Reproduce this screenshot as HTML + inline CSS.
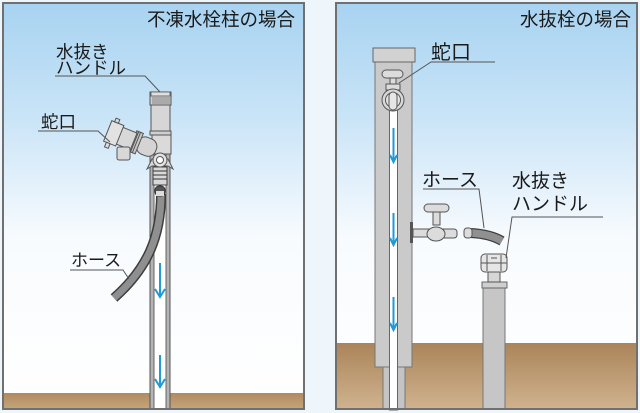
<!DOCTYPE html>
<html><head><meta charset="utf-8">
<style>
html,body{margin:0;padding:0;background:#eef5fb;}
svg{display:block;}
text{font-family:"Liberation Sans","Noto Sans CJK JP",sans-serif;fill:#1a1a1a;}
</style></head><body>
<svg width="640" height="413" viewBox="0 0 640 413" xmlns="http://www.w3.org/2000/svg">
<defs>
<linearGradient id="sky" gradientUnits="userSpaceOnUse" x1="0" y1="3" x2="0" y2="409">
 <stop offset="0" stop-color="#a8d3f1"/>
 <stop offset="0.28" stop-color="#c9e4f7"/>
 <stop offset="0.58" stop-color="#f8fbfe"/>
 <stop offset="1" stop-color="#ffffff"/>
</linearGradient>
<linearGradient id="soil" x1="0" y1="0" x2="0" y2="1">
 <stop offset="0" stop-color="#ab845a"/>
 <stop offset="1" stop-color="#cfb38e"/>
</linearGradient>
<linearGradient id="soil2" x1="0" y1="0" x2="0" y2="1">
 <stop offset="0" stop-color="#b08a5f"/>
 <stop offset="1" stop-color="#c6a57c"/>
</linearGradient>
</defs>

<rect x="0" y="0" width="640" height="413" fill="#eef5fb"/>

<!-- LEFT PANEL -->
<rect x="3" y="3" width="301" height="406" fill="url(#sky)"/>
<rect x="3" y="393" width="301" height="16" fill="url(#soil2)"/>

<!-- left pipe -->
<rect x="150" y="150" width="20" height="259" fill="#b4b4b4" stroke="#555" stroke-width="1"/>
<rect x="154" y="150" width="12" height="259" fill="#ffffff" stroke="#666" stroke-width="1"/>

<!-- hose -->
<path d="M161,194 C161,236 148,268 114,298" fill="none" stroke="#3d3d3d" stroke-width="10"/>
<path d="M161,194 C161,236 148,268 114,298" fill="none" stroke="#8f8f8f" stroke-width="7"/>

<!-- coupler inside pipe -->
<rect x="153" y="167" width="14" height="18" fill="#d8d8d8" stroke="#444" stroke-width="1"/>
<line x1="153" y1="171" x2="167" y2="171" stroke="#333"/>
<line x1="153" y1="175" x2="167" y2="175" stroke="#333"/>
<line x1="153" y1="179" x2="167" y2="179" stroke="#333"/>
<rect x="155" y="186" width="10" height="10" rx="4" fill="#555" stroke="#333"/>
<rect x="156" y="191" width="8" height="5" fill="#ddd"/>

<!-- handle top -->
<rect x="150" y="92" width="21" height="13" fill="#cfcfcf" stroke="#555" stroke-width="1"/>
<rect x="151" y="92" width="19" height="4" fill="#e0e0e0" stroke="#555" stroke-width="0.8"/>
<g stroke="#666" stroke-width="0.7">
<line x1="153" y1="97" x2="153" y2="104"/><line x1="155" y1="97" x2="155" y2="104"/><line x1="157" y1="97" x2="157" y2="104"/><line x1="159" y1="97" x2="159" y2="104"/><line x1="161" y1="97" x2="161" y2="104"/><line x1="163" y1="97" x2="163" y2="104"/><line x1="165" y1="97" x2="165" y2="104"/><line x1="167" y1="97" x2="167" y2="104"/><line x1="169" y1="97" x2="169" y2="104"/>
</g>
<rect x="151" y="105" width="19" height="26" fill="#d6d6d6" stroke="#555" stroke-width="1"/>
<rect x="150" y="131" width="21" height="4" fill="#cfcfcf" stroke="#555" stroke-width="1"/>
<rect x="152" y="135" width="19" height="19" fill="#dadada" stroke="#555" stroke-width="1"/>

<!-- spout -->
<g transform="rotate(22 155 150)" stroke="#555" stroke-width="1">
 <rect x="136" y="141" width="20" height="18" rx="8" fill="#d4d4d4"/>
 <rect x="131" y="139" width="7" height="22" fill="#c8c8c8"/>
 <line x1="133" y1="139" x2="133" y2="161"/><line x1="135" y1="139" x2="135" y2="161"/>
 <rect x="116" y="141" width="16" height="18" fill="#d8d8d8"/>
 <rect x="104" y="139" width="13" height="22" fill="#e2e2e2"/>
 <rect x="107" y="135" width="4" height="4" fill="#ddd"/>
 <rect x="107" y="161" width="4" height="5" fill="#ddd"/>
</g>
<rect x="117" y="147" width="13" height="13" rx="2" fill="#d8d8d8" stroke="#555" stroke-width="1"/>

<!-- nut -->
<polygon points="147,169 152,159 168,159 173,169 168,166 152,166" fill="#d8d8d8" stroke="#555" stroke-width="1"/>
<circle cx="160" cy="160" r="7" fill="#e2e2e2" stroke="#555" stroke-width="1"/>
<circle cx="160" cy="160" r="3.5" fill="#fff" stroke="#555" stroke-width="1"/>

<!-- left arrows -->
<g stroke="#1f9ad8" stroke-width="2" fill="none">
<line x1="160" y1="263" x2="160" y2="297"/><polyline points="155,289 160,297 165,289"/>
<line x1="160" y1="355" x2="160" y2="387"/><polyline points="155,379 160,387 165,379"/>
</g>

<!-- left leaders -->
<g stroke="#555" stroke-width="1" fill="none">
<polyline points="55,76 145,76 160,92"/>
<polyline points="38,131 98,131 110,142"/>
<polyline points="70,270 123,270 129,279"/>
</g>

<text x="147" y="26" font-size="18.5">不凍水栓柱の場合</text>
<text x="56" y="58" font-size="17.5">水抜き</text>
<text x="56" y="74" font-size="17.5">ハンドル</text>
<text x="41" y="128" font-size="17.5">蛇口</text>
<text x="71" y="266" font-size="17">ホース</text>

<rect x="3" y="3" width="301" height="406" fill="none" stroke="#707070" stroke-width="2"/>

<!-- RIGHT PANEL -->
<rect x="336" y="3" width="301" height="406" fill="url(#sky)"/>
<rect x="336" y="343" width="301" height="66" fill="url(#soil)"/>

<!-- pillar -->
<rect x="383" y="365" width="22" height="44" fill="#c4c4c4" stroke="#777" stroke-width="1"/>
<rect x="375" y="62" width="37" height="305" fill="#cacaca" stroke="#777" stroke-width="1"/>
<rect x="373" y="48" width="42" height="14" fill="#d2d2d2" stroke="#666" stroke-width="1"/>
<rect x="389.5" y="104" width="8" height="306" fill="#ffffff" stroke="#666" stroke-width="1"/>

<!-- pillar faucet -->
<rect x="382" y="70" width="21" height="8" rx="4" fill="#dcdcdc" stroke="#555" stroke-width="1"/>
<rect x="390" y="78" width="6" height="6" fill="#dcdcdc" stroke="#555" stroke-width="1"/>
<rect x="386" y="84" width="14" height="6" fill="#dcdcdc" stroke="#555" stroke-width="1"/>
<circle cx="393" cy="100" r="11" fill="#d8d8d8" stroke="#555" stroke-width="1"/>
<circle cx="393" cy="100" r="7.5" fill="#e4e4e4" stroke="#555" stroke-width="1"/>
<rect x="389" y="92" width="8" height="18" rx="4" fill="#e6e6e6" stroke="#555" stroke-width="1"/>

<!-- right arrows -->
<g stroke="#1f9ad8" stroke-width="2" fill="none">
<line x1="393.5" y1="128" x2="393.5" y2="162"/><polyline points="390,155 393.5,162 397,155"/>
<line x1="393.5" y1="213" x2="393.5" y2="245"/><polyline points="390,238 393.5,245 397,238"/>
<line x1="393.5" y1="297" x2="393.5" y2="330"/><polyline points="390,323 393.5,330 397,323"/>
</g>

<!-- side tap -->
<rect x="410" y="222" width="3" height="21" fill="#555"/>
<rect x="413" y="229" width="20" height="8" fill="#dcdcdc" stroke="#555" stroke-width="1"/>
<rect x="433" y="211" width="7" height="14" fill="#dcdcdc" stroke="#555" stroke-width="1"/>
<rect x="424" y="204" width="25" height="8" rx="4" fill="#dcdcdc" stroke="#555" stroke-width="1"/>
<rect x="440" y="229" width="17" height="9" rx="3" fill="#dcdcdc" stroke="#555" stroke-width="1"/>
<ellipse cx="436" cy="234" rx="9" ry="7" fill="#dcdcdc" stroke="#555" stroke-width="1"/>

<!-- hose right -->
<path d="M471,233 Q490,234 502,241" fill="none" stroke="#3d3d3d" stroke-width="10"/>
<path d="M471,233 Q490,234 502,241" fill="none" stroke="#909090" stroke-width="7.5"/>
<rect x="464" y="228" width="8" height="10" rx="3" fill="#dcdcdc" stroke="#555" stroke-width="1"/>

<!-- water extraction post -->
<rect x="483" y="288" width="22" height="121" fill="#c6c6c6" stroke="#777" stroke-width="1"/>
<rect x="482" y="282" width="25" height="6" fill="#cfcfcf" stroke="#666" stroke-width="1"/>
<rect x="488" y="272" width="12" height="10" fill="#d6d6d6" stroke="#555" stroke-width="1"/>
<rect x="481" y="254" width="26" height="18" rx="4" fill="#e6e6e6" stroke="#555" stroke-width="1"/>
<g stroke="#555" stroke-width="1" fill="none">
<line x1="487" y1="255" x2="487" y2="271"/><line x1="501" y1="255" x2="501" y2="271"/>
<line x1="491" y1="258" x2="497" y2="258"/><line x1="481" y1="263" x2="507" y2="263"/>
</g>

<!-- right leaders -->
<g stroke="#555" stroke-width="1" fill="none">
<polyline points="495,62 431,62 399,83"/>
<polyline points="423,189 479,189 484,228"/>
<polyline points="603,217 512,217 506,258"/>
</g>

<text x="520" y="26" font-size="18.5">水抜栓の場合</text>
<text x="431" y="59" font-size="20">蛇口</text>
<text x="422" y="186" font-size="19">ホース</text>
<text x="512" y="187" font-size="19">水抜き</text>
<text x="512" y="210" font-size="19">ハンドル</text>

<rect x="336" y="3" width="301" height="406" fill="none" stroke="#707070" stroke-width="2"/>
</svg>
</body></html>
